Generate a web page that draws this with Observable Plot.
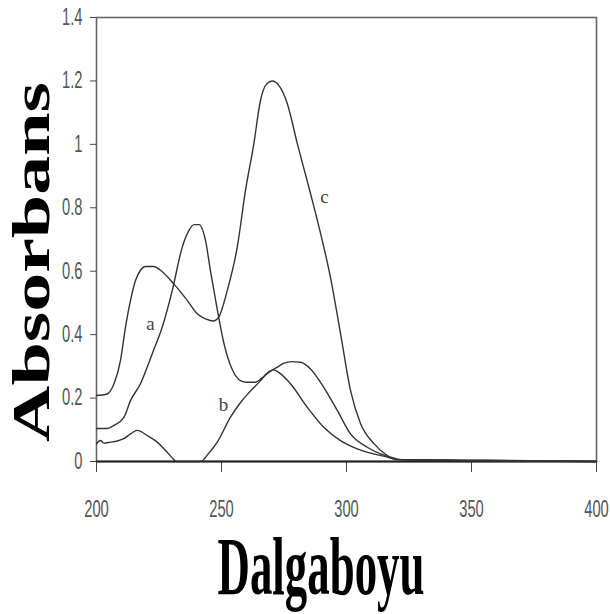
<!DOCTYPE html>
<html>
<head>
<meta charset="utf-8">
<script src="https://cdn.jsdelivr.net/npm/d3@7"></script>
<script src="https://cdn.jsdelivr.net/npm/@observablehq/plot@0.6"></script>
<style>
  html, body { margin: 0; padding: 0; background: #fff; }
</style>
</head>
<body>
<div id="chart"></div>
<script>
// Wavelength (nm) and absorbance values
const aNm  = [200,204.3,207,211,213.6,217.6,222.3,226.3,230.3,234.3,237,239,241,243.6,245.6,248.3,250.9,254.3,257.6,260,263.5,266,269,272,275,278,281.6,285.6,290.9,296.3,301.6,308.3,313.6,317.6,322,340,356,400];
const aAbs = [0.104,0.104,0.114,0.14,0.192,0.245,0.34,0.424,0.539,0.676,0.729,0.747,0.747,0.697,0.6,0.48,0.375,0.29,0.255,0.25,0.25,0.262,0.282,0.296,0.31,0.315,0.313,0.292,0.234,0.161,0.087,0.045,0.024,0.014,0.006,0.004,0.003,0];

const bNm  = [200,201.6,203,205.6,208,210.9,213.6,216.3,220.3,224.3,228.3,232.3,241.6,244.8,248.3,253.6,258,261.6,265.6,268.3,270.9,273,277.6,284.3,290.9,297.6,304.3,310.9,316.3,320,340,356,400];
const bAbs = [0.056,0.066,0.058,0.061,0.064,0.072,0.087,0.098,0.082,0.061,0.029,0,0,0.025,0.061,0.14,0.19,0.222,0.255,0.279,0.289,0.28,0.245,0.171,0.108,0.066,0.04,0.024,0.014,0.006,0.003,0.002,0];

const cNm  = [200,204,207,209.6,211.6,213.6,215.6,217.6,219.6,223,225.6,230.9,236.3,240.3,243.6,246.9,248.9,252.3,256.3,259.6,262.9,265.6,268,270.3,273,276.3,280.3,285.6,289.6,293.6,297.6,301.6,305.6,310.9,316.3,320,340,356,400];
const cAbs = [0.208,0.212,0.245,0.319,0.424,0.508,0.571,0.603,0.615,0.615,0.603,0.56,0.508,0.466,0.45,0.443,0.455,0.539,0.676,0.855,1.0,1.139,1.19,1.2,1.185,1.129,1.003,0.845,0.72,0.58,0.404,0.224,0.12,0.057,0.019,0.006,0.005,0.004,0];

// Curve labels (letter, wavelength, absorbance)
const labelText = ["a", "b", "c"];
const labelNm   = [221.6, 250.8, 291.2];
const labelAbs  = [0.435, 0.177, 0.833];

const xTicks = [200, 250, 300, 350, 400];
const yTicks = [0, 0.2, 0.4, 0.6, 0.8, 1, 1.2, 1.4];

const xTitle = "Dalgaboyu";
const yTitle = "Absorbans";

const toRows = (nm, ab, name) => nm.map((x, i) => ({nm: x, abs: ab[i], curve: name}));
const rows = [
  ...toRows(aNm, aAbs, "a"),
  ...toRows(bNm, bAbs, "b"),
  ...toRows(cNm, cAbs, "c")
];
const labels = labelText.map((t, i) => ({t, nm: labelNm[i], abs: labelAbs[i]}));

const tickFont = "'Liberation Sans Narrow', 'Liberation Sans', sans-serif";

const svg = Plot.plot({
  width: 610,
  height: 614,
  marginLeft: 96,
  marginRight: 14,
  marginTop: 17,
  marginBottom: 153,
  style: {background: "#fff", fontFamily: tickFont, fontSize: "20px", color: "#555"},
  x: {domain: [200, 400]},
  y: {domain: [0, 1.4]},
  marks: [
    Plot.frame({stroke: "#666", strokeWidth: 1.6}),
    Plot.axisY({ticks: yTicks, tickSize: 6, tickPadding: 8, tickFormat: d => String(d), label: null, fontSize: 23, stroke: "#444", fill: "#555"}),
    Plot.axisX({ticks: xTicks, tickSize: 11, tickPadding: 28, tickFormat: d => String(d), label: null, fontSize: 23, stroke: "#444", fill: "#555"}),
    Plot.ruleY([0], {stroke: "#222", strokeWidth: 2}),
    Plot.line(rows, {x: "nm", y: "abs", z: "curve", stroke: "#333", strokeWidth: 1.4, curve: "monotone-x"}),
    Plot.text(labels, {x: "nm", y: "abs", text: "t", fontSize: 19, fontFamily: "'Liberation Serif', serif", fill: "#444"})
  ]
});

const s = d3.select(svg);
const xt = s.append("text")
  .attr("x", 0).attr("y", 0)
  .attr("text-anchor", "middle")
  .attr("font-family", "'Liberation Serif', 'Times New Roman', serif")
  .attr("font-weight", "bold")
  .attr("font-size", 82)
  .attr("fill", "#000")
  .text(xTitle);

const yt = s.append("text")
  .attr("x", 0).attr("y", 0)
  .attr("text-anchor", "middle")
  .attr("font-family", "'Liberation Serif', 'Times New Roman', serif")
  .attr("font-weight", "bold")
  .attr("font-size", 53)
  .attr("fill", "#000")
  .text(yTitle);

document.getElementById("chart").appendChild(svg);

// Squeeze / stretch the titles to the proportions of the original
const xw = xt.node().getComputedTextLength();
xt.attr("transform", `translate(321,594) scale(${(207 / xw).toFixed(4)},1)`);
const yw = yt.node().getComputedTextLength();
yt.attr("transform", `translate(49,262) rotate(-90) scale(${(360 / yw).toFixed(4)},1)`);

// Narrow the tick labels (horizontal squeeze about each label's anchor)
s.selectAll('g[aria-label="y-axis tick label"] text, g[aria-label="x-axis tick label"] text').each(function() {
  const x = +(this.getAttribute("x") || 0);
  const t = this.getAttribute("transform") || "";
  this.setAttribute("transform", `${t} translate(${x},0) scale(0.64,1) translate(${-x},0)`);
});
</script>
</body>
</html>
